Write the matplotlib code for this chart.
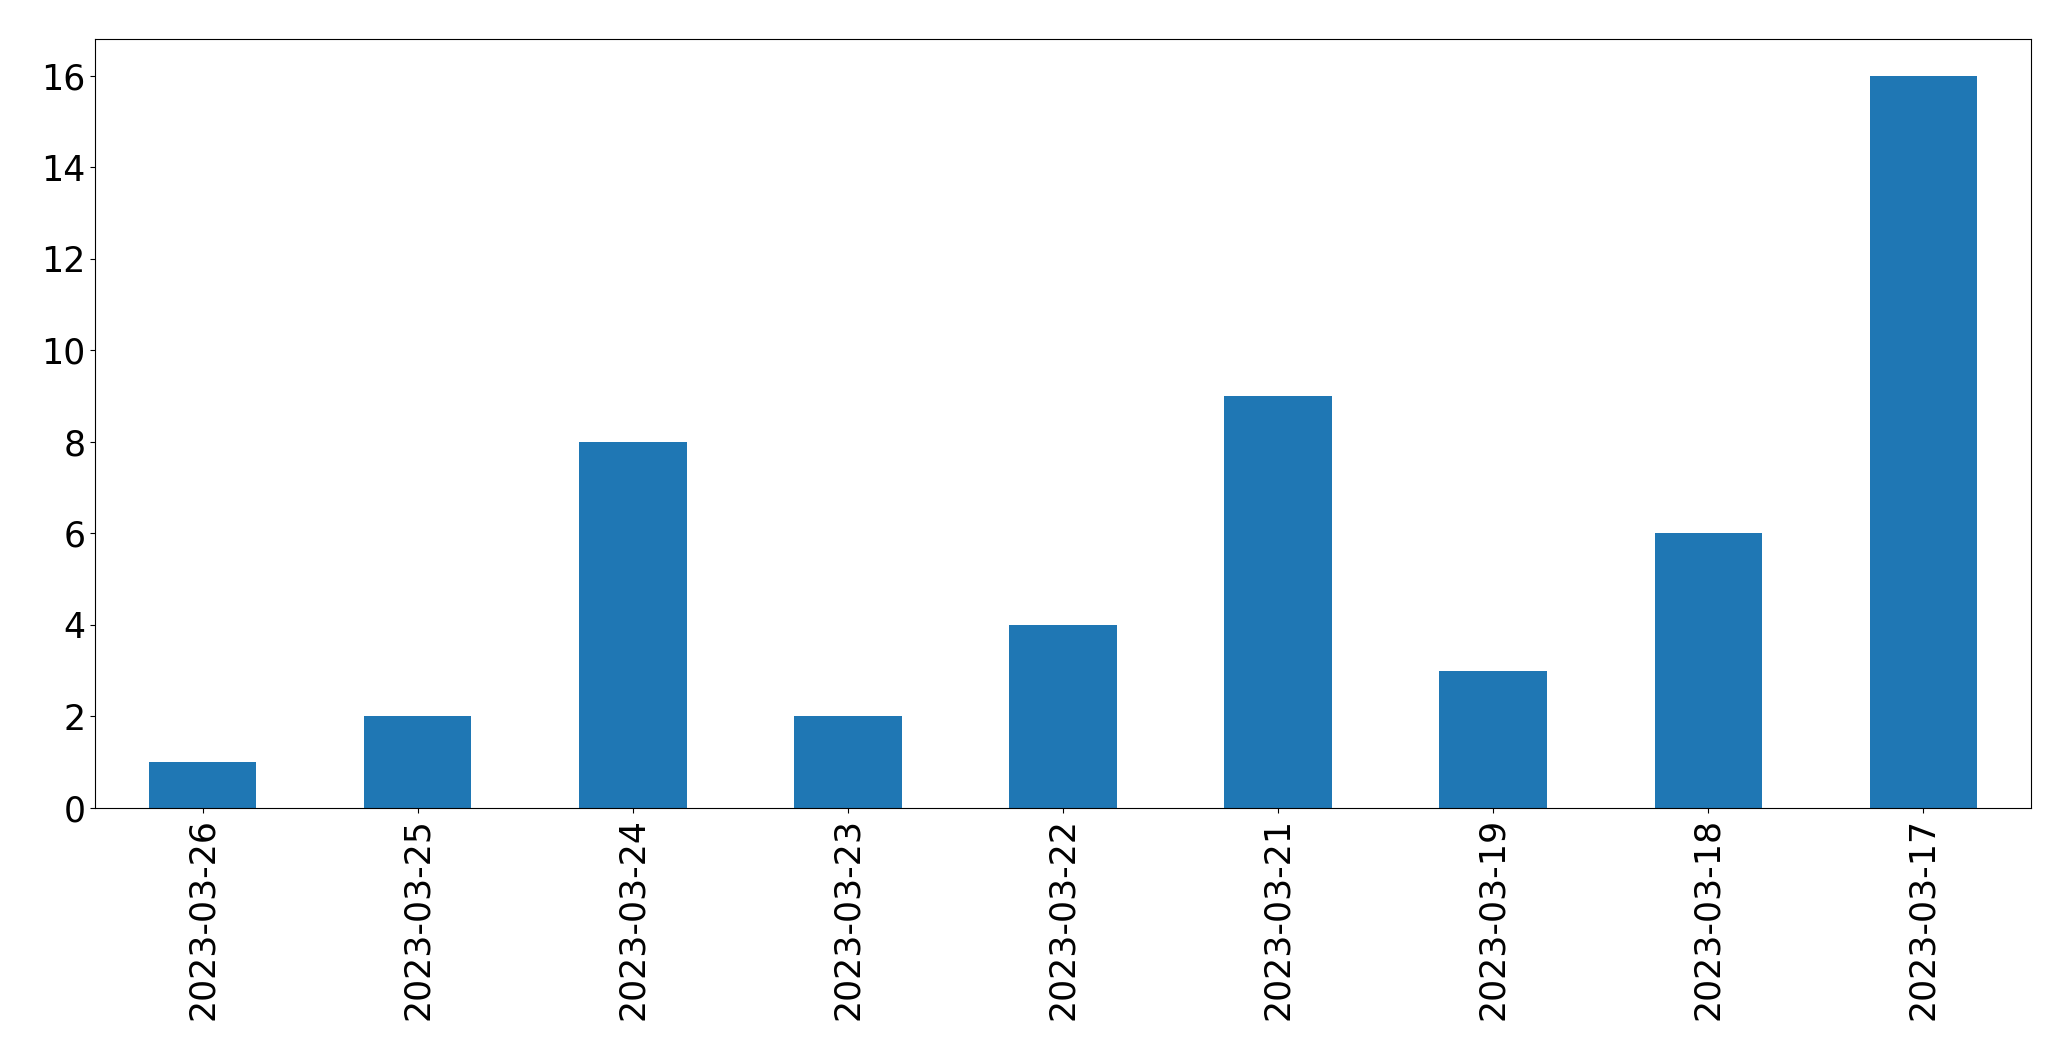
import matplotlib
matplotlib.use("Agg")
import matplotlib.pyplot as plt
import numpy as np

# daily counts, in the order shown on the chart
dates = ["2023-03-26", "2023-03-25", "2023-03-24", "2023-03-23", "2023-03-22",
         "2023-03-21", "2023-03-19", "2023-03-18", "2023-03-17"]
counts = [1, 2, 8, 2, 4, 9, 3, 6, 16]

fig = plt.figure(figsize=(20.71, 10.61), dpi=100)
ax = fig.add_axes([95 / 2071, 1 - 808 / 1061, (2031 - 95) / 2071, (808 - 39) / 1061])

x = np.arange(len(dates))
ax.bar(x, counts, width=0.5, color="#1f77b4")
ax.set_xlim(-0.5, len(dates) - 0.5)
ax.set_xticks(x)
ax.set_xticklabels(dates, rotation=90)
ax.tick_params(axis="both", labelsize=25)

fig.savefig("out.png", dpi=100)
